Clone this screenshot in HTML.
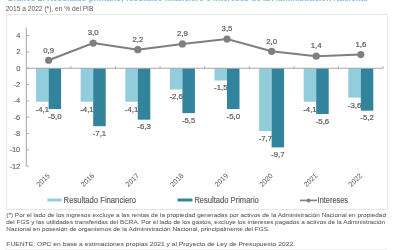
<!DOCTYPE html>
<html><head><meta charset="utf-8"><style>
html,body{margin:0;padding:0;background:#fff;width:400px;height:250px;overflow:hidden}
svg{display:block;font-family:'Liberation Sans', sans-serif;will-change:transform}
</style></head><body>
<svg width="400" height="250" viewBox="0 0 400 250">
<text x="7" y="0.85" font-size="8.2" font-weight="bold" fill="#80B8EA" textLength="360.5" lengthAdjust="spacingAndGlyphs">Gráfico 2. Resultado primario, resultado financiero e intereses de la Administración Nacional</text>
<text x="5.7" y="10.6" font-size="7.2" fill="#595959" textLength="87.7" lengthAdjust="spacingAndGlyphs">2015 a 2022 (*), en % del PIB</text>
<rect x="6.5" y="14.5" width="381" height="195" fill="none" stroke="#E6E6E6" stroke-width="1"/>
<rect x="36.10" y="68.25" width="12.5" height="33.46" fill="#92CDDC"/>
<rect x="48.60" y="68.25" width="12.5" height="40.80" fill="#31849B"/>
<rect x="80.70" y="68.25" width="12.5" height="33.46" fill="#92CDDC"/>
<rect x="93.20" y="68.25" width="12.5" height="57.94" fill="#31849B"/>
<rect x="125.30" y="68.25" width="12.5" height="33.46" fill="#92CDDC"/>
<rect x="137.80" y="68.25" width="12.5" height="51.41" fill="#31849B"/>
<rect x="169.90" y="68.25" width="12.5" height="21.22" fill="#92CDDC"/>
<rect x="182.40" y="68.25" width="12.5" height="44.88" fill="#31849B"/>
<rect x="214.50" y="68.25" width="12.5" height="12.24" fill="#92CDDC"/>
<rect x="227.00" y="68.25" width="12.5" height="40.80" fill="#31849B"/>
<rect x="259.10" y="68.25" width="12.5" height="62.83" fill="#92CDDC"/>
<rect x="271.60" y="68.25" width="12.5" height="79.15" fill="#31849B"/>
<rect x="303.70" y="68.25" width="12.5" height="33.46" fill="#92CDDC"/>
<rect x="316.20" y="68.25" width="12.5" height="45.70" fill="#31849B"/>
<rect x="348.30" y="68.25" width="12.5" height="29.38" fill="#92CDDC"/>
<rect x="360.80" y="68.25" width="12.5" height="42.43" fill="#31849B"/>
<line x1="26.3" y1="27.4" x2="26.3" y2="166.17" stroke="#A6A6A6" stroke-width="1"/>
<line x1="26.3" y1="35.61" x2="28.8" y2="35.61" stroke="#A6A6A6" stroke-width="1"/>
<text x="20.3" y="38.01" font-size="7.5" stroke="#595959" stroke-width="0.08" fill="#595959" text-anchor="end">4</text>
<line x1="26.3" y1="51.93" x2="28.8" y2="51.93" stroke="#A6A6A6" stroke-width="1"/>
<text x="20.3" y="54.33" font-size="7.5" stroke="#595959" stroke-width="0.08" fill="#595959" text-anchor="end">2</text>
<line x1="26.3" y1="68.25" x2="28.8" y2="68.25" stroke="#A6A6A6" stroke-width="1"/>
<text x="20.3" y="70.65" font-size="7.5" stroke="#595959" stroke-width="0.08" fill="#595959" text-anchor="end">0</text>
<line x1="26.3" y1="84.57" x2="28.8" y2="84.57" stroke="#A6A6A6" stroke-width="1"/>
<text x="20.3" y="86.97" font-size="7.5" stroke="#595959" stroke-width="0.08" fill="#595959" text-anchor="end">-2</text>
<line x1="26.3" y1="100.89" x2="28.8" y2="100.89" stroke="#A6A6A6" stroke-width="1"/>
<text x="20.3" y="103.29" font-size="7.5" stroke="#595959" stroke-width="0.08" fill="#595959" text-anchor="end">-4</text>
<line x1="26.3" y1="117.21" x2="28.8" y2="117.21" stroke="#A6A6A6" stroke-width="1"/>
<text x="20.3" y="119.61" font-size="7.5" stroke="#595959" stroke-width="0.08" fill="#595959" text-anchor="end">-6</text>
<line x1="26.3" y1="133.53" x2="28.8" y2="133.53" stroke="#A6A6A6" stroke-width="1"/>
<text x="20.3" y="135.93" font-size="7.5" stroke="#595959" stroke-width="0.08" fill="#595959" text-anchor="end">-8</text>
<line x1="26.3" y1="149.85" x2="28.8" y2="149.85" stroke="#A6A6A6" stroke-width="1"/>
<text x="20.3" y="152.25" font-size="7.5" stroke="#595959" stroke-width="0.08" fill="#595959" text-anchor="end">-10</text>
<line x1="26.3" y1="166.17" x2="28.8" y2="166.17" stroke="#A6A6A6" stroke-width="1"/>
<text x="20.3" y="168.57" font-size="7.5" stroke="#595959" stroke-width="0.08" fill="#595959" text-anchor="end">-12</text>
<line x1="26.3" y1="68.25" x2="383.1" y2="68.25" stroke="#A6A6A6" stroke-width="1"/>
<line x1="70.90" y1="68.25" x2="70.90" y2="66.25" stroke="#A6A6A6" stroke-width="1"/>
<line x1="115.50" y1="68.25" x2="115.50" y2="66.25" stroke="#A6A6A6" stroke-width="1"/>
<line x1="160.10" y1="68.25" x2="160.10" y2="66.25" stroke="#A6A6A6" stroke-width="1"/>
<line x1="204.70" y1="68.25" x2="204.70" y2="66.25" stroke="#A6A6A6" stroke-width="1"/>
<line x1="249.30" y1="68.25" x2="249.30" y2="66.25" stroke="#A6A6A6" stroke-width="1"/>
<line x1="293.90" y1="68.25" x2="293.90" y2="66.25" stroke="#A6A6A6" stroke-width="1"/>
<line x1="338.50" y1="68.25" x2="338.50" y2="66.25" stroke="#A6A6A6" stroke-width="1"/>
<line x1="383.10" y1="68.25" x2="383.10" y2="66.25" stroke="#A6A6A6" stroke-width="1"/>
<polyline points="48.60,60.26 93.20,43.12 137.80,49.65 182.40,43.94 227.00,39.04 271.60,51.28 316.20,56.18 360.80,54.54" fill="none" stroke="#7F7F7F" stroke-width="2"/>
<circle cx="48.60" cy="60.26" r="3.6" fill="#7F7F7F"/>
<text x="48.60" y="52.51" font-size="7.8" fill="#595959" stroke="#595959" stroke-width="0.2" text-anchor="middle">0,9</text>
<text x="42.35" y="111.61" font-size="7.8" fill="#595959" stroke="#595959" stroke-width="0.2" text-anchor="middle">-4,1</text>
<text x="54.85" y="118.75" font-size="7.8" fill="#595959" stroke="#595959" stroke-width="0.2" text-anchor="middle">-5,0</text>
<text transform="translate(50.30,176.1) rotate(-45)" font-size="7.1" fill="#595959" text-anchor="end">2015</text>
<circle cx="93.20" cy="43.12" r="3.6" fill="#7F7F7F"/>
<text x="93.20" y="35.37" font-size="7.8" fill="#595959" stroke="#595959" stroke-width="0.2" text-anchor="middle">3,0</text>
<text x="86.95" y="111.61" font-size="7.8" fill="#595959" stroke="#595959" stroke-width="0.2" text-anchor="middle">-4,1</text>
<text x="99.45" y="135.89" font-size="7.8" fill="#595959" stroke="#595959" stroke-width="0.2" text-anchor="middle">-7,1</text>
<text transform="translate(94.90,176.1) rotate(-45)" font-size="7.1" fill="#595959" text-anchor="end">2016</text>
<circle cx="137.80" cy="49.65" r="3.6" fill="#7F7F7F"/>
<text x="137.80" y="41.90" font-size="7.8" fill="#595959" stroke="#595959" stroke-width="0.2" text-anchor="middle">2,2</text>
<text x="131.55" y="111.61" font-size="7.8" fill="#595959" stroke="#595959" stroke-width="0.2" text-anchor="middle">-4,1</text>
<text x="144.05" y="129.36" font-size="7.8" fill="#595959" stroke="#595959" stroke-width="0.2" text-anchor="middle">-6,3</text>
<text transform="translate(139.50,176.1) rotate(-45)" font-size="7.1" fill="#595959" text-anchor="end">2017</text>
<circle cx="182.40" cy="43.94" r="3.6" fill="#7F7F7F"/>
<text x="182.40" y="36.19" font-size="7.8" fill="#595959" stroke="#595959" stroke-width="0.2" text-anchor="middle">2,9</text>
<text x="176.15" y="99.37" font-size="7.8" fill="#595959" stroke="#595959" stroke-width="0.2" text-anchor="middle">-2,6</text>
<text x="188.65" y="122.83" font-size="7.8" fill="#595959" stroke="#595959" stroke-width="0.2" text-anchor="middle">-5,5</text>
<text transform="translate(184.10,176.1) rotate(-45)" font-size="7.1" fill="#595959" text-anchor="end">2018</text>
<circle cx="227.00" cy="39.04" r="3.6" fill="#7F7F7F"/>
<text x="227.00" y="31.29" font-size="7.8" fill="#595959" stroke="#595959" stroke-width="0.2" text-anchor="middle">3,5</text>
<text x="220.75" y="90.39" font-size="7.8" fill="#595959" stroke="#595959" stroke-width="0.2" text-anchor="middle">-1,5</text>
<text x="233.25" y="118.75" font-size="7.8" fill="#595959" stroke="#595959" stroke-width="0.2" text-anchor="middle">-5,0</text>
<text transform="translate(228.70,176.1) rotate(-45)" font-size="7.1" fill="#595959" text-anchor="end">2019</text>
<circle cx="271.60" cy="51.28" r="3.6" fill="#7F7F7F"/>
<text x="271.60" y="43.53" font-size="7.8" fill="#595959" stroke="#595959" stroke-width="0.2" text-anchor="middle">2,0</text>
<text x="265.35" y="140.98" font-size="7.8" fill="#595959" stroke="#595959" stroke-width="0.2" text-anchor="middle">-7,7</text>
<text x="277.85" y="157.10" font-size="7.8" fill="#595959" stroke="#595959" stroke-width="0.2" text-anchor="middle">-9,7</text>
<text transform="translate(273.30,176.1) rotate(-45)" font-size="7.1" fill="#595959" text-anchor="end">2020</text>
<circle cx="316.20" cy="56.18" r="3.6" fill="#7F7F7F"/>
<text x="316.20" y="48.43" font-size="7.8" fill="#595959" stroke="#595959" stroke-width="0.2" text-anchor="middle">1,4</text>
<text x="309.95" y="111.61" font-size="7.8" fill="#595959" stroke="#595959" stroke-width="0.2" text-anchor="middle">-4,1</text>
<text x="322.45" y="123.65" font-size="7.8" fill="#595959" stroke="#595959" stroke-width="0.2" text-anchor="middle">-5,6</text>
<text transform="translate(317.90,176.1) rotate(-45)" font-size="7.1" fill="#595959" text-anchor="end">2021</text>
<circle cx="360.80" cy="54.54" r="3.6" fill="#7F7F7F"/>
<text x="360.80" y="46.79" font-size="7.8" fill="#595959" stroke="#595959" stroke-width="0.2" text-anchor="middle">1,6</text>
<text x="354.55" y="107.53" font-size="7.8" fill="#595959" stroke="#595959" stroke-width="0.2" text-anchor="middle">-3,6</text>
<text x="367.05" y="120.38" font-size="7.8" fill="#595959" stroke="#595959" stroke-width="0.2" text-anchor="middle">-5,2</text>
<text transform="translate(362.50,176.1) rotate(-45)" font-size="7.1" fill="#595959" text-anchor="end">2022</text>
<rect x="47.4" y="198.5" width="14.2" height="3" fill="#92CDDC"/>
<text x="63.6" y="202.7" font-size="8.3" fill="#595959" stroke="#595959" stroke-width="0.15" textLength="72.4" lengthAdjust="spacingAndGlyphs">Resultado Financiero</text>
<rect x="177.6" y="198.5" width="14.8" height="3" fill="#31849B"/>
<text x="194.4" y="202.7" font-size="8.3" fill="#595959" stroke="#595959" stroke-width="0.15" textLength="64.4" lengthAdjust="spacingAndGlyphs">Resultado Primario</text>
<line x1="300" y1="200.4" x2="317" y2="200.4" stroke="#7F7F7F" stroke-width="1.6"/>
<circle cx="308.5" cy="200.4" r="2" fill="#7F7F7F"/>
<text x="317.6" y="202.7" font-size="8.3" fill="#595959" stroke="#595959" stroke-width="0.15" textLength="30.4" lengthAdjust="spacingAndGlyphs">Intereses</text>
<text x="6.3" y="217.1" font-size="6.2" fill="#595959" stroke="#595959" stroke-width="0.05" textLength="379.7" lengthAdjust="spacingAndGlyphs">(*) Por el lado de los ingresos excluye a las rentas de la propiedad generadas por activos de la Administración Nacional en propiedad</text>
<text x="6.3" y="224.2" font-size="6.2" fill="#595959" stroke="#595959" stroke-width="0.05" textLength="378.7" lengthAdjust="spacingAndGlyphs">del FGS y las utilidades transferidas del BCRA. Por el lado de los gastos, excluye los intereses pagados a activos de la Administración</text>
<text x="6.3" y="231.2" font-size="6.2" fill="#595959" stroke="#595959" stroke-width="0.05" textLength="263.5" lengthAdjust="spacingAndGlyphs">Nacional en posesión de organismos de la Administración Nacional, principalmente del FGS.</text>
<text x="6.3" y="246.2" font-size="6.2" fill="#595959" stroke="#595959" stroke-width="0.05" textLength="288.7" lengthAdjust="spacingAndGlyphs">FUENTE: OPC en base a estimaciones propias 2021 y al Proyecto de Ley de Presupuesto 2022.</text>
<line x1="5" y1="249.5" x2="387" y2="249.5" stroke="#EDEDED" stroke-width="1"/>
</svg>
</body></html>
